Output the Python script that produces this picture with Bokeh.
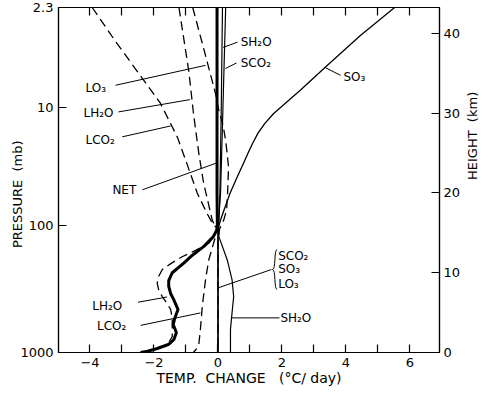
import math
from bokeh.plotting import figure
from bokeh.models import LinearAxis, FixedTicker, Range1d, Label, CustomLabelingPolicy
from bokeh.embed import file_html
from bokeh.resources import INLINE

# ---------------- data (height in km, temperature change in deg C/day) -------------
lco2_h = [43.25, 39.1, 34.4, 31.25, 27.0, 24.0, 20.0, 17.5, 16.25, 15.5, 14.5, 11.6, 9.1, 5.8, 2.9, 1.0, 0.4, 0.0]
lco2_x = [-3.93, -3.22, -2.37, -1.80, -1.27, -1.0, -0.65, -0.35, -0.18, -0.02, -0.08, -0.29, -0.39, -0.49, -0.55, -0.6, -0.68, -0.77]

lh2o_h = [43.25, 35.2, 29.75, 25.0, 21.25, 18.5, 16.6, 15.5, 14.5, 13.7, 12.8, 12.0, 11.2, 10.4, 9.5, 8.7,
          7.8, 7.0, 6.2, 5.4, 4.3, 3.3, 2.0, 1.2, 0.8, 0.3, 0.0]
lh2o_x = [-1.22, -0.91, -0.76, -0.6, -0.45, -0.29, -0.18, -0.05, -0.12, -0.29, -0.7, -1.12, -1.45, -1.74, -1.86, -1.9,
          -1.85, -1.74, -1.6, -1.48, -1.43, -1.43, -1.43, -1.55, -1.7, -2.1, -2.35]

lo3_h = [43.25, 38.0, 32.5, 30.5, 28.25, 26.25, 23.25, 20.0, 17.9, 16.6, 15.5, 14.0, 0.0]
lo3_x = [-0.79, -0.44, -0.08, 0.02, 0.17, 0.25, 0.33, 0.3, 0.27, 0.18, 0.05, 0.0, 0.0]

net_h = [43.25, 30.0, 20.0, 16.0, 15.5, 14.5, 13.3, 12.2, 11.2, 10.0, 9.0, 8.3, 7.4, 6.6, 5.4, 4.3, 3.5,
         2.5, 1.6, 1.0, 0.5, 0.15, 0.0]
net_x = [-0.03, -0.03, -0.03, -0.02, -0.02, -0.15, -0.44, -0.8, -1.07, -1.43, -1.54, -1.54, -1.48, -1.38, -1.25, -1.35, -1.4,
         -1.3, -1.38, -1.55, -1.9, -2.2, -2.42]

sh2o_h = [43.25, 30.0, 20.0, 15.5, 14.5, 11.6, 9.1, 7.0, 5.0, 2.9, 0.0]
sh2o_x = [0.14, 0.1, 0.06, 0.02, 0.03, 0.29, 0.44, 0.49, 0.44, 0.39, 0.39]

sco2_h = [43.25, 30.0, 20.0, 15.5, 0.0]
sco2_x = [0.24, 0.15, 0.08, 0.0, 0.0]

so3_h = [43.25, 39.75, 35.8, 32.9, 29.96, 28.7, 27.5, 26.2, 25.0, 24.1, 22.0, 20.0, 18.0, 16.6, 15.5, 0.0]
so3_x = [5.52, 4.45, 3.36, 2.58, 1.74, 1.46, 1.25, 1.08, 0.94, 0.84, 0.6, 0.38, 0.2, 0.08, 0.0, 0.0]

# axes
pressure_labels = ["1000", "100", "10", "2.3"]
pressure_heights = [0.0, 15.9, 30.75, 43.25]
height_ticks = [0, 10, 20, 30, 40]
x_major = [-4, -2, 0, 2, 4, 6]
x_minor = [-3, -1, 1, 3, 5]

FONT = "DejaVu Sans"
NBSP = "\u00a0"
PAD = "\u2800"  # blank (non-whitespace) padding glyph

p = figure(width=490, height=388, output_backend="svg", toolbar_location=None,
           x_range=Range1d(-4.984, 6.922), y_range=Range1d(0, 43.25),
           min_border_left=58, min_border_right=51, min_border_top=7, min_border_bottom=35)
p.xgrid.visible = False
p.ygrid.visible = False
p.outline_line_color = "black"
p.outline_line_width = 1.2
p.background_fill_color = "white"
p.border_fill_color = "white"


def style_axis(ax, labels=True):
    ax.major_tick_in = 8
    ax.major_tick_out = 0
    ax.minor_tick_in = 8
    ax.minor_tick_out = 0
    ax.axis_line_color = "black"
    ax.axis_line_width = 1.2
    ax.major_tick_line_width = 1.2
    ax.minor_tick_line_width = 1.2
    ax.major_label_text_font = FONT
    ax.major_label_text_font_size = "13px" if labels else "0px"
    ax.major_label_text_color = "black"
    ax.major_label_standoff = 5 if labels else 0
    ax.axis_label_text_font = FONT
    ax.axis_label_text_font_size = "13px"
    ax.axis_label_text_font_style = "normal"
    ax.axis_label_text_color = "black"


bx = p.xaxis[0]
bx.ticker = FixedTicker(ticks=x_major, minor_ticks=x_minor)
style_axis(bx)
bx.major_label_standoff = 5
bx.axis_label = "TEMP." + NBSP + " CHANGE" + NBSP * 2 + " (\u00b0C/" + NBSP + "day)"
bx.axis_label_text_font_size = "14px"
bx.axis_label_standoff = 0

tx = LinearAxis(ticker=FixedTicker(ticks=x_major, minor_ticks=x_minor))
style_axis(tx, labels=False)
tx.major_label_policy = CustomLabelingPolicy(code="return new Set()")
p.add_layout(tx, "above")

ly = p.yaxis[0]
ly.ticker = FixedTicker(ticks=pressure_heights, minor_ticks=[])
ly.major_label_overrides = {h: lab for h, lab in zip(pressure_heights, pressure_labels)}
style_axis(ly)
ly.axis_label = "PRESSURE" + NBSP + " (mb)" + PAD * 3
ly.axis_label_standoff = -8

ry = LinearAxis(ticker=FixedTicker(ticks=height_ticks, minor_ticks=[]))
style_axis(ry)
ry.major_label_standoff = 4
ry.axis_label = "HEIGHT" + NBSP + " (km)" + PAD * 8
ry.axis_label_standoff = 9
if "axis_label_orientation" in ry.properties():
    ry.axis_label_orientation = math.pi / 2
p.add_layout(ry, "right")

# ---------------- curves ----------------
DASH = "9 5"
p.line(lco2_x, lco2_h, line_color="black", line_width=1.3, line_dash=DASH)
p.line(lh2o_x, lh2o_h, line_color="black", line_width=1.3, line_dash=DASH)
p.line(lo3_x, lo3_h, line_color="black", line_width=1.3, line_dash=DASH)
p.line(sh2o_x, sh2o_h, line_color="black", line_width=1.2)
p.line(sco2_x, sco2_h, line_color="black", line_width=1.2)
p.line(so3_x, so3_h, line_color="black", line_width=1.3)
p.line(net_x, net_h, line_color="black", line_width=3.0)

# ---------------- annotations ----------------
callouts = [
    ("LO\u2083", -4.14, 33.1, (-3.2, 33.5, -0.39, 36.0)),
    ("LH\u2082O", -4.2, 30.0, (-3.11, 30.16, -0.88, 31.7)),
    ("LCO\u2082", -4.14, 26.6, (-2.99, 27.04, -1.48, 28.4)),
    ("NET", -3.3, 20.4, (-2.36, 20.4, -0.05, 23.75)),
    ("SH\u2082O", 0.71, 38.9, (0.16, 38.25, 0.61, 38.9)),
    ("SCO\u2082", 0.71, 36.25, (0.23, 35.6, 0.58, 36.3)),
    ("SO\u2083", 3.92, 34.5, (3.36, 35.7, 3.83, 34.75)),
    ("SCO\u2082", 1.88, 12.16, (0.0, 8.1, 1.67, 10.4)),
    ("SO\u2083", 1.88, 10.5, None),
    ("LO\u2083", 1.88, 8.6, None),
    ("SH\u2082O", 1.95, 4.34, (0.44, 4.34, 1.92, 4.34)),
    ("LH\u2082O", -3.93, 5.8, (-2.5, 6.3, -1.59, 6.96)),
    ("LCO\u2082", -3.78, 3.3, (-2.42, 3.4, -0.55, 4.96)),
]
sx0, sy0, sx1, sy1 = [], [], [], []
for text, lx, ly_, seg in callouts:
    p.add_layout(Label(x=lx, y=ly_, text=text, text_font=FONT, text_font_size="12px",
                       text_align="left", text_baseline="middle", text_color="black"))
    if seg is not None:
        sx0.append(seg[0]); sy0.append(seg[1]); sx1.append(seg[2]); sy1.append(seg[3])
p.segment(sx0, sy0, sx1, sy1, line_color="black", line_width=1.0)

# brace for grouped labels
p.bezier(x0=[1.85, 1.70], y0=[12.9, 10.4], x1=[1.70, 1.85], y1=[10.4, 7.9],
         cx0=[1.74, 1.82], cy0=[12.9, 10.4], cx1=[1.82, 1.74], cy1=[10.4, 7.9],
         line_color="black", line_width=1.0)

open("out.html", "w").write(file_html(p, INLINE))
